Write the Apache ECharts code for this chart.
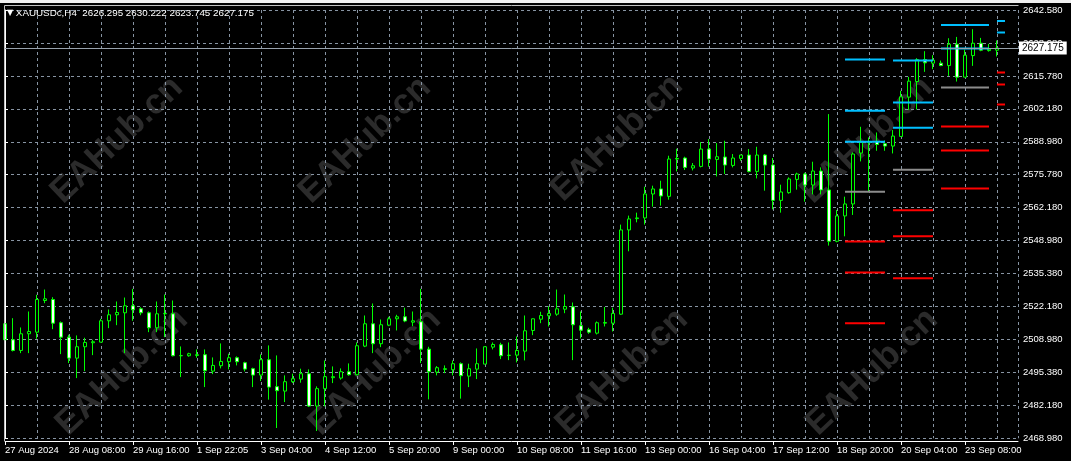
<!DOCTYPE html>
<html><head><meta charset="utf-8">
<script src="https://cdn.jsdelivr.net/npm/echarts/dist/echarts.min.js"></script>
<style>html,body{margin:0;padding:0;background:#000;}#c{width:1071px;height:461px;}</style>
</head><body><div id="c"></div>
<script>
// H4 bars, index 0 = 27 Aug 2024 00:00
const opens = [2515.40,2508.93,2504.59,2511.35,2512.00,2524.83,2525.23,2515.81,2509.98,2501.48,
2506.09,2507.71,2507.95,2516.61,2519.04,2519.85,2522.69,2521.47,2519.85,2513.78,
2519.45,2519.45,2502.45,2502.45,2502.57,2502.86,2496.22,2498.40,2500.02,2501.64,
2499.62,2497.19,2494.60,2500.83,2489.90,2488.12,2491.93,2492.98,2495.16,2482.05,
2489.09,2493.55,2493.39,2495.97,2494.76,2506.34,2515.40,2507.31,2514.83,2517.42,
2518.23,2516.05,2516.21,2505.12,2495.81,2496.91,2496.78,2499.21,2494.19,2497.03,
2499.05,2505.93,2506.90,2502.57,2502.69,2504.31,2512.69,2517.26,2518.64,2519.29,
2521.31,2522.28,2514.59,2512.97,2511.60,2515.64,2515.64,2519.29,2553.44,2558.02,
2558.30,2568.01,2570.04,2567.04,2582.18,2582.58,2578.53,2579.18,2586.22,2582.01,
2582.99,2579.59,2582.42,2583.79,2577.16,2583.79,2579.75,2565.42,2568.54,2573.92,
2576.11,2571.65,2577.32,2569.63,2548.83,2559.11,2563.96,2584.60,2588.77,2589.30,
2588.37,2587.44,2591.32,2607.27,2613.58,2622.48,2621.03,2621.03,2620.06,2628.72,
2615.36,2624.10,2629.12,2626.13,2626.295];
const closes = [2508.93,2504.59,2511.35,2512.28,2525.23,2525.52,2515.64,2509.98,2501.48,2506.09,
2507.83,2508.12,2516.61,2519.04,2519.97,2522.69,2521.07,2519.85,2513.78,2519.45,
2519.60,2502.45,2502.50,2503.26,2502.86,2496.38,2498.52,2500.14,2501.64,2500.02,
2497.03,2494.60,2500.83,2489.74,2488.29,2491.93,2493.14,2495.16,2482.05,2489.09,
2493.95,2493.95,2495.97,2494.76,2506.50,2515.40,2507.31,2515.00,2517.42,2518.23,
2516.53,2516.61,2505.12,2495.97,2497.59,2497.19,2499.21,2494.36,2497.19,2499.21,
2506.09,2507.02,2502.45,2502.65,2504.59,2512.57,2517.42,2518.76,2519.57,2521.47,
2522.40,2515.00,2512.81,2512.00,2515.81,2515.93,2519.57,2553.44,2557.89,2558.30,
2568.01,2570.04,2567.20,2582.18,2582.42,2578.78,2579.46,2586.22,2582.18,2583.11,
2579.75,2582.58,2583.79,2577.16,2583.79,2579.75,2565.42,2568.82,2574.08,2576.11,
2571.65,2577.32,2569.63,2548.83,2559.11,2563.96,2584.20,2588.89,2589.18,2588.08,
2587.44,2591.48,2607.39,2613.74,2622.48,2621.15,2622.24,2620.06,2628.72,2615.36,
2624.26,2629.12,2626.29,2626.69,2627.175];
const lows = [2505.28,2504.19,2503.50,2503.50,2509.33,2523.74,2513.21,2503.10,2499.46,2493.38,
2496.22,2502.69,2507.83,2513.62,2514.83,2503.50,2516.61,2518.88,2512.00,2512.00,
2509.98,2502.17,2493.79,2502.05,2501.64,2489.74,2495.00,2497.31,2496.91,2498.52,
2496.09,2489.74,2492.17,2484.64,2473.15,2483.67,2491.36,2491.52,2481.65,2471.94,
2481.93,2491.36,2492.74,2494.36,2494.48,2505.93,2503.50,2505.93,2514.43,2512.69,
2516.05,2514.43,2499.46,2484.76,2494.48,2495.41,2494.48,2485.05,2489.74,2492.98,
2499.05,2505.00,2501.07,2500.67,2499.74,2500.55,2510.79,2515.64,2514.31,2518.64,
2519.69,2500.67,2509.45,2511.35,2511.07,2514.31,2512.28,2519.04,2544.78,2556.52,
2555.59,2562.87,2563.28,2565.70,2577.16,2577.72,2577.56,2578.78,2579.06,2575.13,
2576.11,2578.78,2581.49,2576.75,2574.32,2569.35,2561.78,2560.44,2568.13,2569.75,
2564.90,2567.85,2567.85,2547.09,2548.42,2550.85,2559.51,2581.20,2569.06,2585.53,
2585.53,2584.44,2591.32,2602.01,2602.25,2617.51,2618.60,2619.81,2615.89,2613.58,
2615.36,2619.93,2625.88,2625.72,2623.745];
const highs = [2516.74,2517.67,2513.90,2520.38,2527.14,2529.28,2526.17,2516.33,2510.95,2510.67,
2509.74,2508.93,2517.42,2521.19,2524.43,2526.04,2529.56,2522.12,2520.38,2524.43,
2527.26,2524.83,2506.21,2503.66,2505.00,2505.00,2501.76,2507.43,2503.26,2502.17,
2500.02,2497.59,2502.98,2506.62,2502.57,2494.48,2495.16,2497.19,2496.91,2490.03,
2500.55,2498.12,2497.31,2499.33,2507.83,2518.76,2523.62,2517.14,2518.23,2519.04,
2521.92,2520.38,2529.56,2506.09,2498.24,2498.52,2500.55,2499.74,2499.21,2505.40,
2506.21,2507.83,2507.71,2507.83,2510.26,2518.76,2517.50,2520.26,2522.52,2529.28,
2527.26,2524.02,2520.38,2513.78,2516.33,2522.20,2521.88,2555.59,2559.23,2560.44,
2570.97,2571.37,2573.39,2583.51,2586.34,2583.11,2580.56,2589.06,2590.27,2588.65,
2589.58,2584.20,2583.91,2586.22,2587.15,2584.20,2582.58,2571.78,2574.73,2576.63,
2576.63,2581.08,2578.78,2600.39,2561.54,2566.92,2584.85,2595.25,2590.92,2592.94,
2589.70,2593.91,2609.82,2615.48,2623.05,2625.88,2624.26,2622.08,2631.14,2631.67,
2626.53,2634.79,2631.27,2628.84,2630.222];

const xTickLabels = ['27 Aug 2024','28 Aug 08:00','29 Aug 16:00','1 Sep 22:05','3 Sep 04:00','4 Sep 12:00',
'5 Sep 20:00','9 Sep 00:00','10 Sep 08:00','11 Sep 16:00','13 Sep 00:00','16 Sep 04:00','17 Sep 12:00',
'18 Sep 20:00','20 Sep 04:00','23 Sep 08:00'];
const yTickLabels = ['2468.980','2482.180','2495.380','2508.980','2522.180','2535.380','2548.980',
'2562.180','2575.780','2588.980','2602.180','2615.780','2628.980','2642.580'];

// pivot levels: [fromBar, toBar, price]
const pivotBlue = [[105,110,2622.48],[105,110,2601.72],[105,110,2589.18],
[111,116,2622.08],[111,116,2605.08],[111,116,2594.84],
[117,123,2636.53],[117,123,2626.94],[124,125,2638.15],[124,125,2633.41]];
const pivotGray = [[105,110,2568.94],[111,116,2577.85],[117,123,2611.15]];
const pivotRed = [[105,110,2548.71],[105,110,2536.16],[105,110,2515.64],
[111,116,2561.37],[111,116,2550.85],[111,116,2533.85],
[117,123,2595.37],[117,123,2585.66],[117,123,2570.28],
[124,125,2617.22],[124,125,2612.37],[124,125,2604.27]];

const symbolInfo = 'XAUUSDc,H4';
const lastBar = {open:'2626.295', high:'2630.222', low:'2623.745', close:'2627.175'};
const lastPrice = 2627.175;

const Y_MIN = 2468.98, Y_MAX = 2642.58, Y_INT = (Y_MAX - Y_MIN) / 13;
const X_MAX = 126.625;
const FONT = 'Liberation Sans';

const candles = opens.map((o, i) => [i, o, closes[i], lows[i], highs[i]]);
function segs(list) {
  const out = [];
  list.forEach(s => { out.push([s[0], s[2]]); out.push([s[1], s[2]]); out.push([s[1], '-']); });
  return out;
}
function pivotSeries(list, color) {
  return {type:'line', data: segs(list), symbol:'none', silent:true, connectNulls:false,
    lineStyle:{color:color, width:2}, z:4, animation:false};
}

const wm = [];
[[117,140],[365,140],[617,138],[867,140],[122,372],[375,372],[622,372],[872,372]].forEach(p => {
  wm.push({type:'text', x:p[0], y:p[1], rotation:0.76, z:-10, silent:true,
    style:{text:'EAHub.cn', fill:'#2b2b2b', font:'bold 35px "Liberation Sans"', align:'center', verticalAlign:'middle'}});
});

const chart = echarts.init(document.getElementById('c'));
chart.setOption({
  backgroundColor:'#000',
  animation:false,
  title:{
    text:'{t|▼} ' + symbolInfo + '  ' + lastBar.open + ' ' + lastBar.high + ' ' + lastBar.low + ' ' + lastBar.close,
    left:7, top:8, padding:0,
    textStyle:{color:'#ffffff', fontSize:9.8, fontFamily:FONT, fontWeight:'normal',
      rich:{t:{fontFamily:'DejaVu Sans', fontSize:8, color:'#ffffff'}}}
  },
  graphic: wm.concat([
    {type:'rect', shape:{x:0,y:0,width:1071,height:3}, style:{fill:'#f0f0f0'}, z:100, silent:true},
    {type:'line', shape:{x1:4.5,y1:5.5,x2:4.5,y2:441}, style:{stroke:'#c0c0c0', lineWidth:1}, z:100, silent:true},
    {type:'line', shape:{x1:4.5,y1:5.5,x2:1018.5,y2:5.5}, style:{stroke:'#c0c0c0', lineWidth:1}, z:100, silent:true}
  ]),
  grid:{left:5, right:53, top:10, bottom:22.7, containLabel:false},
  xAxis:[{
    type:'value', min:0, max:X_MAX, interval:8, offset:2.7,
    axisLine:{show:true, lineStyle:{color:'#ffffff', width:1}},
    axisTick:{show:true, length:4, lineStyle:{color:'#ffffff'}},
    splitLine:{show:false},
    axisLabel:{color:'#ffffff', fontSize:9.5, fontFamily:FONT, align:'left', margin:4,
      showMaxLabel:false,
      formatter:v => { const k = v / 8; return Number.isInteger(k) && xTickLabels[k] ? xTickLabels[k] : ''; }}
  },{
    type:'value', min:0, max:X_MAX, interval:4, position:'bottom',
    axisLine:{show:false}, axisTick:{show:false}, axisLabel:{show:false},
    splitLine:{show:true, lineStyle:{color:'#8794a3', type:[3,3], width:1}}
  }],
  yAxis:{
    type:'value', position:'right', min:Y_MIN, max:Y_MAX, interval:Y_INT, scale:true,
    axisLine:{show:true, lineStyle:{color:'#ffffff'}},
    axisTick:{show:true, length:3, lineStyle:{color:'#ffffff'}},
    splitLine:{show:true, lineStyle:{color:'#8794a3', type:[3,3], width:1}},
    axisLabel:{color:'#ffffff', fontSize:9.5, fontFamily:FONT, margin:5,
      formatter:v => { const k = Math.round((v - Y_MIN) / Y_INT); return yTickLabels[k] || ''; }}
  },
  series:[
    {type:'candlestick', xAxisIndex:0, data:candles, barWidth:4, z:3,
      itemStyle:{color:'#000000', color0:'#ffffff', borderColor:'#00ff00', borderColor0:'#00ff00', borderWidth:1},
      markLine:{silent:true, symbol:['none','none'], animation:false,
        lineStyle:{color:'#98a2ad', type:'solid', width:1},
        label:{show:true, position:'end', formatter:lastBar.close, color:'#000', backgroundColor:'#ffffff',
          fontSize:10, fontFamily:FONT, padding:[2,3,1,3], distance:1},
        data:[{yAxis:lastPrice}]}
    },
    pivotSeries(pivotBlue, '#00bfff'),
    pivotSeries(pivotGray, '#8c8c8c'),
    pivotSeries(pivotRed, '#ff0000')
  ]
});
</script>
</body></html>
